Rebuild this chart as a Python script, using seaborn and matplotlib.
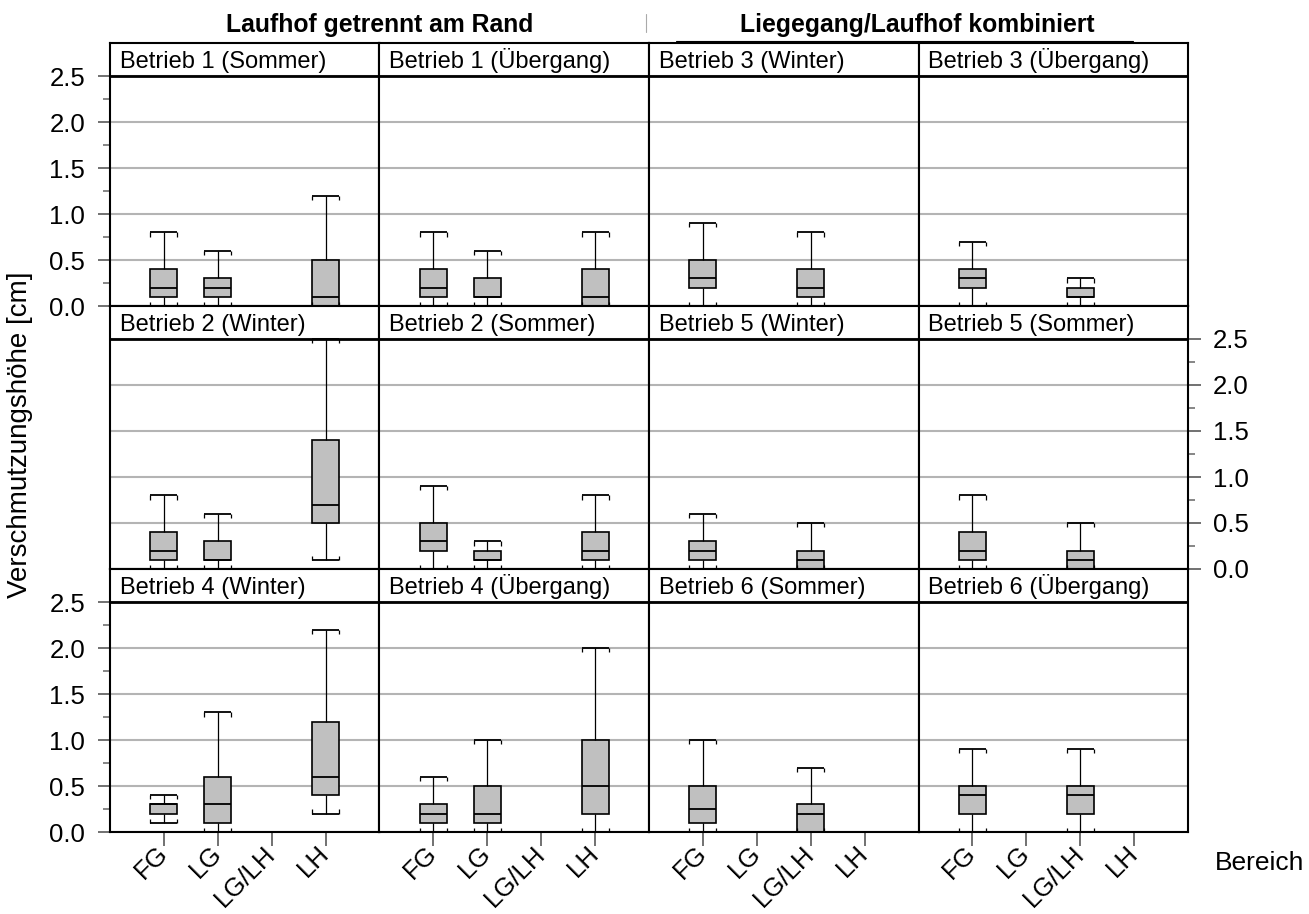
import matplotlib
matplotlib.use("Agg")
import matplotlib.pyplot as plt
from matplotlib.lines import Line2D
import seaborn as sns
import pandas as pd

categories = ["FG", "LG", "LG/LH", "LH"]

# per Bereich: min, q1, median, q3, max  [cm]
b1_sommer = {"FG": [0.0, 0.1, 0.2, 0.4, 0.8], "LG": [0.0, 0.1, 0.2, 0.3, 0.6], "LH": [0.0, 0.0, 0.1, 0.5, 1.2]}
b1_uebergang = {"FG": [0.0, 0.1, 0.2, 0.4, 0.8], "LG": [0.0, 0.1, 0.1, 0.3, 0.6], "LH": [0.0, 0.0, 0.1, 0.4, 0.8]}
b3_winter = {"FG": [0.0, 0.2, 0.3, 0.5, 0.9], "LG/LH": [0.0, 0.1, 0.2, 0.4, 0.8]}
b3_uebergang = {"FG": [0.0, 0.2, 0.3, 0.4, 0.7], "LG/LH": [0.0, 0.1, 0.1, 0.2, 0.3]}
b2_winter = {"FG": [0.0, 0.1, 0.2, 0.4, 0.8], "LG": [0.0, 0.1, 0.1, 0.3, 0.6], "LH": [0.1, 0.5, 0.7, 1.4, 2.5]}
b2_sommer = {"FG": [0.0, 0.2, 0.3, 0.5, 0.9], "LG": [0.0, 0.1, 0.1, 0.2, 0.3], "LH": [0.0, 0.1, 0.2, 0.4, 0.8]}
b5_winter = {"FG": [0.0, 0.1, 0.2, 0.3, 0.6], "LG/LH": [0.0, 0.0, 0.1, 0.2, 0.5]}
b5_sommer = {"FG": [0.0, 0.1, 0.2, 0.4, 0.8], "LG/LH": [0.0, 0.0, 0.1, 0.2, 0.5]}
b4_winter = {"FG": [0.1, 0.2, 0.3, 0.3, 0.4], "LG": [0.0, 0.1, 0.3, 0.6, 1.3], "LH": [0.2, 0.4, 0.6, 1.2, 2.2]}
b4_uebergang = {"FG": [0.0, 0.1, 0.2, 0.3, 0.6], "LG": [0.0, 0.1, 0.2, 0.5, 1.0], "LH": [0.0, 0.2, 0.5, 1.0, 2.0]}
b6_sommer = {"FG": [0.0, 0.1, 0.25, 0.5, 1.0], "LG/LH": [0.0, 0.0, 0.2, 0.3, 0.7]}
b6_uebergang = {"FG": [0.0, 0.2, 0.4, 0.5, 0.9], "LG/LH": [0.0, 0.2, 0.4, 0.5, 0.9]}

panels = [
    [("Betrieb 1 (Sommer)", b1_sommer), ("Betrieb 1 (Übergang)", b1_uebergang),
     ("Betrieb 3 (Winter)", b3_winter), ("Betrieb 3 (Übergang)", b3_uebergang)],
    [("Betrieb 2 (Winter)", b2_winter), ("Betrieb 2 (Sommer)", b2_sommer),
     ("Betrieb 5 (Winter)", b5_winter), ("Betrieb 5 (Sommer)", b5_sommer)],
    [("Betrieb 4 (Winter)", b4_winter), ("Betrieb 4 (Übergang)", b4_uebergang),
     ("Betrieb 6 (Sommer)", b6_sommer), ("Betrieb 6 (Übergang)", b6_uebergang)],
]

group_titles = ["Laufhof getrennt am Rand", "Liegegang/Laufhof kombiniert"]
yticks = [0.0, 0.5, 1.0, 1.5, 2.0, 2.5]
yminor = [0.25, 0.75, 1.25, 1.75, 2.25]

sns.set_style("ticks")
plt.rcParams['font.family'] = ['Liberation Sans', 'DejaVu Sans']
plt.rcParams['text.color'] = 'black'
plt.rcParams['xtick.labelcolor'] = 'black'
plt.rcParams['ytick.labelcolor'] = 'black'

W, H = 1309, 914
fig = plt.figure(figsize=(W / 100, H / 100), dpi=100)
gs = fig.add_gridspec(3, 4, left=110 / W, right=1188 / W, top=1 - 43 / H, bottom=1 - 832 / H,
                      wspace=0, hspace=0)

strip_top = 2.5 + 33 / 92.0
tick_grey = "#666666"


def to_long(stats):
    rows = []
    for cat, vals in stats.items():
        for v in vals:
            rows.append({"Bereich": cat, "Wert": v})
    return pd.DataFrame(rows)


def draw_caps(ax, stats):
    # whisker caps with the small end ticks like in the original
    for i, cat in enumerate(categories):
        if cat not in stats:
            continue
        lo, hi = stats[cat][0], stats[cat][-1]
        ax.hlines([lo, hi], i - 0.25, i + 0.25, color="black", lw=1.3, zorder=4)
        ax.vlines([i - 0.25, i + 0.25], hi - 0.045, hi, color="black", lw=0.9, zorder=4)
        ax.vlines([i - 0.25, i + 0.25], lo, lo + 0.045, color="black", lw=0.9, zorder=4)


for r in range(3):
    for c in range(4):
        title, stats = panels[r][c]
        ax = fig.add_subplot(gs[r, c])
        df = to_long(stats)
        sns.boxplot(data=df, x="Bereich", y="Wert", order=categories, ax=ax,
                    whis=(0, 100), width=0.5, color="#c0c0c0", saturation=1,
                    linecolor="black", linewidth=1.2, showcaps=False,
                    whiskerprops=dict(linewidth=0.9), medianprops=dict(linewidth=1.3))
        draw_caps(ax, stats)

        ax.set_xlim(-1, 4)
        ax.set_ylim(0, strip_top)
        ax.set_yticks(yticks)
        ax.set_yticks(yminor, minor=True)
        ax.set_yticklabels([f"{t:.1f}" for t in yticks])
        ax.set_axisbelow(True)
        ax.grid(axis="y", which="major", color="#b4b4b4", lw=1.5)
        ax.axhline(2.5, color="black", lw=2, zorder=5)
        ax.text(-0.82, 2.5 + 8 / 92.0, title, fontsize=17, ha="left", va="baseline")
        ax.set_xlabel("")
        ax.set_ylabel("")
        for sp in ax.spines.values():
            sp.set_visible(True)
            sp.set_linewidth(1.5)
            sp.set_color("black")

        ax.tick_params(axis="y", which="major", length=9, width=1.3, color=tick_grey,
                       labelsize=18.5, pad=9, labelcolor="black")
        ax.tick_params(axis="y", which="minor", length=5, width=1.1, color=tick_grey)
        if r in (0, 2) and c == 0:
            ax.tick_params(axis="y", which="both", left=True, labelleft=True,
                           right=False, labelright=False)
        elif r == 1 and c == 3:
            ax.yaxis.tick_right()
            ax.tick_params(axis="y", which="both", right=True, labelright=True,
                           left=False, labelleft=False)
        else:
            ax.tick_params(axis="y", which="both", left=False, labelleft=False,
                           right=False, labelright=False)

        ax.set_xticks(range(len(categories)))
        if r == 2:
            ax.set_xticklabels(categories, rotation=45, ha="right", va="center",
                               rotation_mode="anchor", fontsize=18.5)
            ax.tick_params(axis="x", length=10, width=1.3, color=tick_grey, pad=3,
                           labelcolor="black")
        else:
            ax.tick_params(axis="x", bottom=False, labelbottom=False)

fig.text(380 / W, 1 - 32 / H, group_titles[0], ha="center", va="baseline",
         fontsize=17.8, fontweight="bold")
fig.text(917 / W, 1 - 32 / H, group_titles[1], ha="center", va="baseline",
         fontsize=17.8, fontweight="bold")
fig.add_artist(Line2D([676 / W, 1133 / W], [1 - 40.5 / H] * 2, transform=fig.transFigure,
                      color="black", lw=0.8))
fig.add_artist(Line2D([646 / W] * 2, [1 - 14 / H, 1 - 32 / H], transform=fig.transFigure,
                      color="#aaaaaa", lw=0.8))

fig.text(20 / W, 1 - 435 / H, "Verschmutzungshöhe [cm]", rotation=90, ha="center",
         va="center", fontsize=20)
fig.text(1215 / W, 1 - 870 / H, "Bereich", ha="left", va="baseline", fontsize=19)

fig.savefig("out.png", dpi=100)
